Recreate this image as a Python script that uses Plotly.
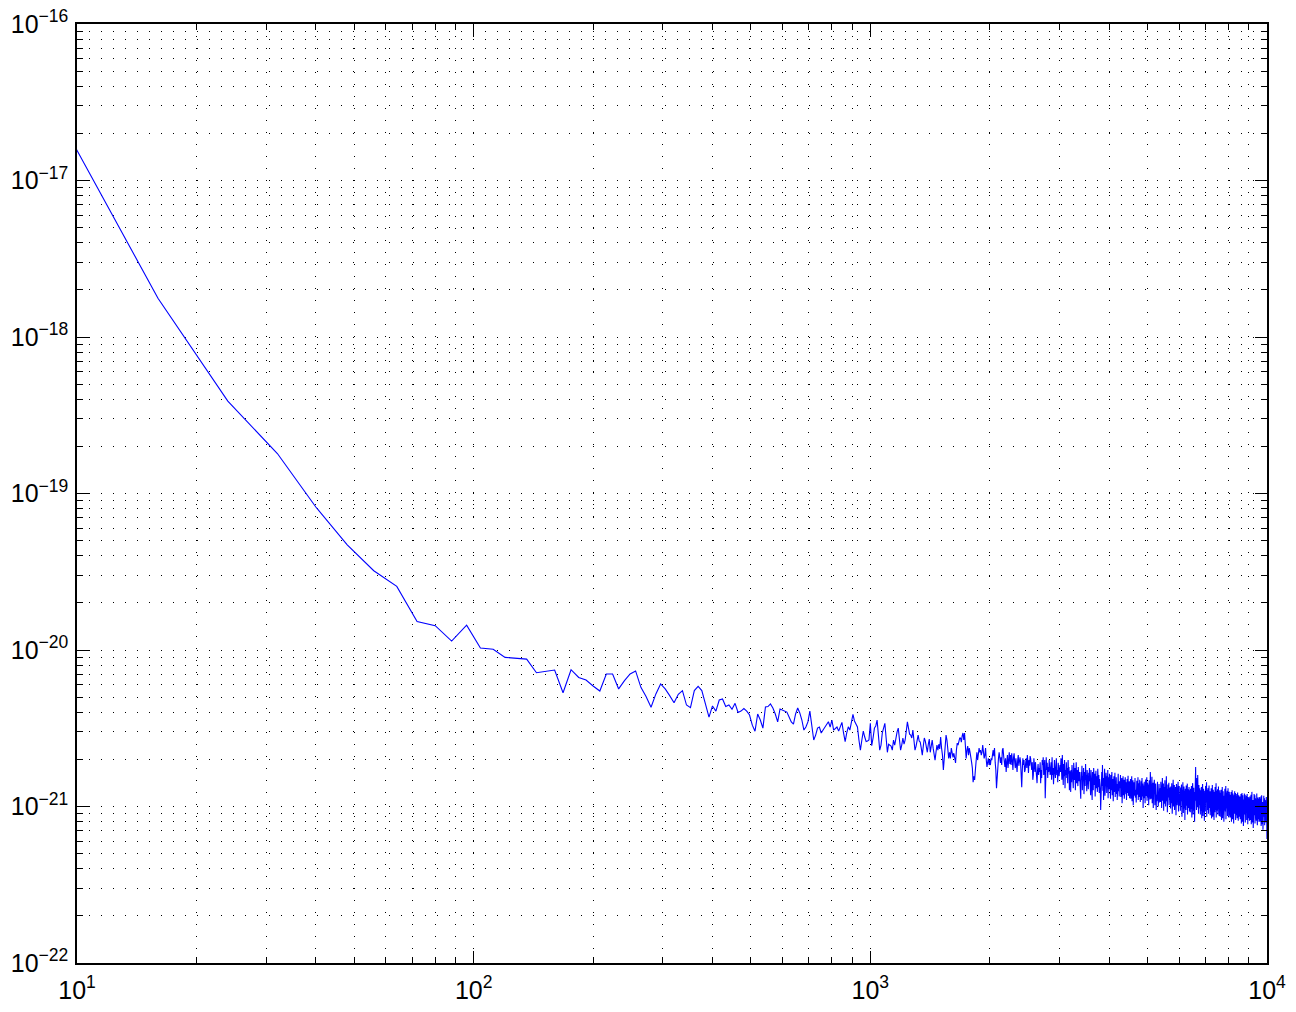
import numpy as np
import plotly.graph_objects as go

# Spectrum sampled on an 8 Hz frequency grid (8 Hz ... 10 kHz)
bin_width_hz = 8.0

# 8 Hz ... 416 Hz (absolute units)
psd_low = [
    4.37e-17, 1.77e-18, 3.89e-19, 1.80e-19, 8.20e-20, 4.70e-20, 3.21e-20, 2.55e-20, 1.52e-20, 1.43e-20,
    1.14e-20, 1.44e-20, 1.03e-20, 1.01e-20, 8.97e-21, 8.89e-21, 8.75e-21, 7.16e-21, 7.31e-21, 7.45e-21,
    5.33e-21, 7.48e-21, 6.68e-21, 6.43e-21, 5.89e-21, 5.47e-21, 7.03e-21, 7.03e-21, 5.64e-21, 6.37e-21,
    7.03e-21, 7.35e-21, 5.77e-21, 5.04e-21, 4.31e-21, 5.24e-21, 6.07e-21, 5.64e-21, 5.11e-21, 4.60e-21,
    5.21e-21, 5.50e-21, 4.45e-21, 4.28e-21, 5.50e-21, 5.86e-21, 5.50e-21, 4.56e-21, 3.72e-21, 4.39e-21,
    4.07e-21, 4.79e-21,
]

# 424 Hz ... 1000 Hz, in units of 1e-21
psd_mid_e21 = [
    4.86, 4.35, 4.45, 4.18, 4.56, 3.99, 4.07, 4.23, 4.07, 3.84,
    3.31, 3.03, 3.90, 3.57, 3.17, 4.32, 4.35, 4.52, 4.26, 3.90,
    3.47, 4.20, 4.13, 4.09, 4.01, 3.73, 3.47, 3.36, 3.90, 4.26,
    3.96, 3.57, 3.08, 3.22, 3.47, 4.07, 3.31, 2.66, 2.86, 3.17,
    3.22, 2.95, 3.08, 3.23, 3.36, 3.48, 3.22, 3.57, 3.08, 3.13,
    3.22, 3.03, 3.27, 3.45, 2.95, 2.60, 2.95, 3.23, 3.08, 3.57,
    3.88, 3.52, 3.36, 3.22, 2.66, 2.29, 2.66, 3.03, 2.78, 2.60,
    2.62, 2.66, 3.40,
]

# 1008 Hz ... 10000 Hz, in units of 1e-21
psd_high_e21 = [
    2.45, 2.74, 3.17, 3.27, 3.57, 2.86, 2.29,
    2.47, 2.95, 3.17, 3.40, 2.74, 2.22, 2.50, 2.45,
    2.43, 2.29, 2.66, 2.47, 2.78, 3.00, 3.17, 2.62,
    2.29, 2.47, 2.74, 2.50, 2.66, 3.03, 3.47, 3.17, 2.90,
    2.86, 2.74, 3.08, 2.58, 2.29, 2.43, 2.70, 2.86, 2.62,
    2.58, 2.36, 2.13, 2.43, 2.74, 2.62, 2.33, 2.22, 2.50, 2.70,
    2.22, 2.43, 2.66, 2.36, 2.10, 1.98, 2.22, 2.47, 2.29, 2.50, 2.33,
    2.78, 2.36, 2.13, 1.71, 2.03, 2.58, 2.86, 2.66, 2.29, 2.03, 2.22,
    2.03, 2.36, 2.22, 2.06, 2.19, 1.98, 1.90, 2.29, 2.54, 2.47, 2.66, 2.74,
    2.74, 2.58, 2.82, 2.95, 2.66, 2.95, 2.47, 2.03, 2.29, 2.43, 2.13, 2.36, 2.22,
    2.10, 1.92, 1.76, 1.43, 1.56, 1.48, 1.71, 2.06, 2.22, 1.98, 2.13, 2.36, 2.22,
    2.29, 2.13, 2.22, 2.47, 2.22, 2.03, 2.13, 2.36, 1.98, 1.79, 1.92, 2.03, 1.84, 1.98,
    1.84, 2.03, 1.98, 2.19, 2.29, 2.10, 2.36, 1.92, 1.71, 1.31, 1.59, 1.98, 2.03, 2.22, 1.92,
    1.90, 2.06, 1.84, 2.29, 2.36, 2.10, 1.98, 1.79, 2.03, 1.66, 1.92, 2.13, 1.76, 1.98, 2.22, 1.87,
    2.13, 1.84, 2.19, 1.98, 1.71, 2.06, 2.19, 1.92, 1.76, 2.03, 1.87, 1.66, 1.98, 2.13, 1.82, 1.95, 2.06,
    1.92, 1.59, 1.33, 1.71, 2.03, 1.84, 1.98, 1.66, 1.71, 1.90, 2.03, 1.76, 2.13, 1.92, 1.64, 1.98, 1.82, 2.10,
    2.03, 1.84, 1.71, 1.92, 1.48, 1.59, 2.03, 1.82, 1.66, 1.92, 1.76, 1.54, 1.41, 1.71, 1.87, 1.59, 1.76, 1.66, 1.92,
    1.41, 1.71, 1.52, 1.98, 1.84, 2.06, 1.59, 1.76, 1.98, 1.13, 1.48, 2.06, 1.71, 1.90, 1.52, 1.79, 1.66, 1.98, 1.76, 1.59,
    1.71, 1.92, 1.48, 2.06, 1.59, 1.76, 1.39, 1.84, 1.98, 1.66, 1.52, 1.79, 2.03, 1.59, 1.71, 1.43, 1.90, 1.76, 1.56, 1.69, 1.84,
    1.66, 2.03, 1.79, 1.48, 2.13, 1.71, 1.37, 1.87, 1.56, 1.98, 1.31, 1.71, 1.59, 1.92, 1.52, 1.76, 1.41, 1.98, 1.62, 1.79, 1.27, 1.69,
    1.59, 1.24, 1.71, 1.43, 1.84, 1.52, 1.66, 1.31, 1.90, 1.59, 1.48, 1.76, 1.27, 1.62, 1.92, 1.41, 1.71, 1.52, 1.35, 1.79, 1.59, 1.45, 1.66, 1.50,
    1.37, 1.12, 1.66, 1.48, 1.82, 1.27, 1.56, 1.45, 1.76, 1.20, 1.50, 1.66, 1.35, 1.87, 1.48, 1.59, 1.25, 1.71, 1.41, 1.54, 1.29, 1.64, 1.45, 1.76, 1.35,
    1.46, 1.18, 1.71, 1.36, 1.55, 1.10, 1.66, 1.42, 1.27, 1.76, 1.50, 1.37, 1.62, 1.16, 1.48, 1.69, 1.31, 1.56, 1.42, 1.24, 1.74, 1.46, 1.33, 1.59, 1.22, 1.50, 1.39,
    1.27, 0.95, 1.48, 1.18, 1.66, 1.35, 1.84, 1.26, 1.52, 1.10, 1.59, 1.39, 1.74, 1.17, 1.46, 1.31, 1.64, 1.50, 1.22, 1.56, 1.35, 1.71, 1.13, 1.43, 1.54, 1.29, 1.62, 1.37,
    1.37, 1.12, 1.59, 1.27, 1.48, 1.66, 1.18, 1.35, 1.50, 1.08, 1.41, 1.56, 1.24, 1.31, 1.64, 1.15, 1.43, 1.29, 1.54, 1.20,
    1.39, 1.10, 1.50, 1.33, 1.62, 1.25, 1.37, 1.16, 1.45, 1.31,
    1.33, 1.59, 1.15, 1.45, 1.24, 1.52, 1.05, 1.39, 1.27, 1.56, 1.18, 1.35, 1.48, 1.12, 1.41, 1.26, 1.54, 1.31, 1.20, 1.43,
    1.10, 1.37, 1.50, 1.22, 1.33, 1.57, 1.17, 1.39, 1.29, 1.45, 1.13, 1.35,
    1.29, 1.50, 1.12, 1.38, 1.21, 1.56, 1.08, 1.34, 1.25, 1.47, 1.02, 1.31, 1.43, 1.17, 1.36, 1.24, 1.52, 1.14, 1.40, 1.28,
    1.06, 1.33, 1.46, 1.19, 1.37, 1.26, 1.54, 1.10, 1.32, 1.41, 1.15, 1.29, 1.48, 1.22,
    1.07, 1.34, 1.18, 1.45, 1.10, 1.30, 1.52, 1.16, 1.27, 1.40, 0.98, 1.25, 1.36, 1.13, 1.44, 1.21, 1.32, 1.05, 1.28, 1.49,
    1.17, 1.35, 1.23, 1.54, 1.09, 1.30, 1.42, 1.14, 1.26, 1.38, 1.02, 1.31, 1.47, 1.20, 1.33, 1.11,
    1.66, 1.28, 1.45, 1.12, 1.38, 1.20, 1.55, 1.05, 1.30, 1.18, 1.42, 0.98, 1.25, 1.35, 1.10, 1.48, 1.22, 1.02, 1.33, 1.15,
    1.40, 1.26, 0.95, 1.19, 1.36, 1.08, 1.29, 1.44, 1.14, 1.24, 1.00, 1.32, 1.17, 1.39, 1.06, 1.27, 1.21, 1.11,
    1.31, 1.07, 1.44, 1.16, 1.25, 0.98, 1.36, 1.20, 1.52, 1.09, 1.28, 1.13, 1.40, 0.94, 1.23, 1.33, 1.04, 1.18, 1.47, 1.11,
    1.26, 1.00, 1.35, 1.15, 1.56, 1.08, 1.22, 1.30, 0.92, 1.19, 1.38, 1.06, 1.27, 1.14, 1.42, 1.02, 1.24, 1.17, 1.32, 1.10,
    1.21, 0.97, 1.34, 1.12, 1.26, 1.05, 1.41, 1.15, 0.90, 1.23, 1.30, 1.08, 1.48, 1.17, 1.00, 1.28, 1.13, 1.37, 0.95, 1.20,
    1.25, 1.04, 1.33, 1.16, 0.88, 1.22, 1.39, 1.10, 1.27, 1.02, 1.19, 1.31, 1.07, 1.44, 1.14, 0.93, 1.24, 1.18, 1.35, 1.01,
    1.29, 1.11,
    1.20, 0.94, 1.32, 1.08, 1.25, 0.99, 1.38, 1.12, 0.86, 1.18, 1.28, 1.03, 1.43, 1.15, 0.91, 1.22, 1.10, 1.34, 0.97, 1.17,
    1.26, 0.82, 1.13, 1.30, 1.05, 1.21, 0.95, 1.36, 1.09, 1.24, 1.01, 1.16, 1.40, 0.89, 1.19, 1.11, 1.29, 0.98, 1.23, 1.06,
    1.33, 1.14, 0.93, 1.27, 1.07,
    1.18, 0.92, 1.30, 1.05, 1.22, 0.96, 1.35, 1.10, 0.85, 1.16, 1.26, 1.01, 1.41, 1.12, 0.89, 1.20, 1.07, 1.32, 0.94, 1.15,
    1.24, 0.80, 1.11, 1.28, 1.28, 1.05, 1.79, 1.12, 1.09, 1.21, 0.95, 1.34, 1.52, 1.13, 1.25, 0.99, 1.59, 1.17, 1.06, 1.29,
    0.90, 1.19, 1.37, 1.02, 1.23, 1.08, 1.31, 0.97,
    1.14, 0.89, 1.27, 1.03, 1.20, 0.94, 1.33, 1.08, 0.84, 1.16, 1.24, 0.99, 1.39, 1.11, 0.87, 1.19, 1.05, 1.30, 0.92, 1.13,
    1.22, 0.81, 1.09, 1.26, 1.01, 1.17, 0.93, 1.35, 1.06, 1.21, 0.97, 1.12, 1.43, 0.86, 1.15, 1.07, 1.28, 0.95, 1.18, 1.02,
    1.31, 1.10, 0.90, 1.23, 1.04, 1.36, 0.98, 1.14, 1.25, 0.88,
    1.12, 0.88, 1.25, 1.01, 1.18, 0.93, 1.31, 1.06, 0.84, 1.14, 1.22, 0.97, 1.37, 1.09, 0.86, 1.17, 1.03, 1.28, 0.91, 1.11,
    1.20, 0.82, 1.07, 1.24, 0.99, 1.15, 0.92, 1.33, 1.04, 1.19, 0.95, 1.10, 1.41, 0.85, 1.13, 1.05, 1.26, 0.94, 1.16, 1.00,
    1.29, 1.08, 0.89, 1.21, 1.02, 1.34, 0.96, 1.12, 1.23, 0.87, 1.18, 1.06, 1.27, 0.98,
    1.09, 0.86, 1.22, 0.98, 1.15, 0.91, 1.28, 1.03, 0.82, 1.11, 1.19, 0.95, 1.33, 1.06, 0.84, 1.14, 1.00, 1.25, 0.89, 1.08,
    1.17, 0.80, 1.04, 1.21, 0.96, 1.28, 0.99, 1.30, 1.01, 1.16, 0.93, 1.07, 1.35, 0.83, 1.10, 1.02, 1.23, 0.92, 1.13, 0.97,
    1.26, 1.05, 0.87, 1.18, 0.99, 1.31, 0.94, 1.09, 1.20, 0.85, 1.15, 1.03, 1.24, 0.95, 1.12, 0.90, 1.06,
    1.07, 0.85, 1.19, 0.96, 1.12, 0.89, 1.24, 1.01, 0.80, 1.09, 1.16, 0.93, 1.27, 1.04, 0.83, 1.11, 0.98, 1.21, 0.87, 1.06,
    1.14, 0.78, 1.02, 1.18, 0.94, 1.10, 0.90, 1.25, 0.99, 1.13, 0.91, 1.05, 1.22, 0.82, 1.08, 1.00, 1.17, 0.88, 1.11, 0.95,
    1.20, 1.03, 0.84, 1.15, 0.97, 1.23, 0.92, 1.07, 1.13, 0.81, 1.10, 0.99, 1.18, 0.90, 1.06, 0.86, 1.12, 1.01, 0.94, 1.16,
    1.04, 0.83, 1.16, 0.94, 1.09, 0.87, 1.20, 0.98, 0.78, 1.06, 1.13, 0.91, 1.22, 1.01, 0.80, 1.08, 0.95, 1.18, 0.85, 1.03,
    1.11, 0.75, 0.99, 1.15, 0.92, 1.07, 0.88, 1.21, 0.96, 1.10, 0.89, 1.02, 1.19, 0.79, 1.05, 0.97, 1.14, 0.86, 1.08, 0.93,
    1.17, 1.00, 0.82, 1.12, 0.94, 1.20, 0.90, 1.04, 1.10, 0.77, 1.07, 0.96, 1.15, 0.87, 1.03, 0.84, 1.09, 0.98, 0.91, 1.13,
    0.81, 1.01, 1.16, 0.93,
    1.03, 0.82, 1.15, 0.93, 1.08, 0.86, 1.19, 0.97, 0.77, 1.05, 1.12, 0.90, 1.24, 1.00, 0.79, 1.07, 0.94, 1.17, 0.84, 1.02,
    1.10, 0.73, 0.98, 1.14, 0.91, 1.06, 0.87, 1.20, 0.95, 1.09, 0.88, 1.01, 1.18, 0.78, 1.04, 0.96, 1.13, 0.85, 1.07, 0.92,
    1.16, 0.99, 0.81, 1.11, 0.93, 1.21, 0.89, 1.03, 1.09, 0.76, 1.06, 0.95, 1.14, 0.86, 1.02, 0.83, 1.08, 0.97, 0.90, 1.12,
    0.80, 1.00, 1.15, 0.92, 1.04, 0.87, 1.10,
    1.00, 0.80, 1.12, 0.90, 1.05, 0.84, 1.16, 0.94, 0.75, 1.02, 1.09, 0.87, 1.18, 0.97, 0.77, 1.04, 0.91, 1.14, 0.82, 0.99,
    1.07, 0.71, 0.95, 1.11, 0.88, 1.03, 0.85, 1.17, 0.92, 1.06, 0.86, 0.98, 1.13, 0.76, 1.01, 0.93, 1.10, 0.83, 1.04, 0.89,
    1.12, 0.96, 0.79, 1.08, 0.90, 1.15, 1.06, 0.74, 1.02, 0.81, 0.62,
]
unit = 1e-21

psd = np.concatenate([
    np.asarray(psd_low),
    np.asarray(psd_mid_e21) * unit,
    np.asarray(psd_high_e21) * unit,
])
freq = bin_width_hz * np.arange(1, psd.size + 1)

# Axis decorations
x_tick_vals = [10, 100, 1000, 10000]
x_tick_exps = ["1", "2", "3", "4"]
y_tick_vals = [1e-22, 1e-21, 1e-20, 1e-19, 1e-18, 1e-17, 1e-16]
y_tick_exps = ["\u221222", "\u221221", "\u221220", "\u221219", "\u221218", "\u221217", "\u221216"]
x_minor_vals = [m * 10 ** d for d in (1, 2, 3) for m in range(2, 10)]
y_minor_vals = [m * 10.0 ** e for e in range(-22, -16) for m in range(2, 10)]


def power_label(exp):
    return "10<sup>" + exp + "</sup>"


font_family = "Liberation Sans, Arial, Helvetica, sans-serif"
grid_dash = "1px,11px"

fig = go.Figure()
fig.add_trace(go.Scatter(
    x=freq, y=psd, mode="lines",
    line=dict(color="#0000ff", width=1.1),
    showlegend=False, hoverinfo="skip",
))

axis_common = dict(
    type="log",
    automargin=False,
    showline=True, linecolor="black", linewidth=1.5, mirror="allticks",
    ticks="inside", ticklen=12, tickwidth=1, tickcolor="black",
    showgrid=True, gridcolor="black", gridwidth=1, griddash=grid_dash,
    zeroline=False,
    tickfont=dict(family=font_family, size=25, color="black"),
)

fig.update_xaxes(
    **axis_common,
    range=[1, 4],
    tickmode="array", tickvals=x_tick_vals,
    ticktext=[power_label(e) for e in x_tick_exps],
    ticklabelstandoff=4,
    minor=dict(tickmode="array", tickvals=x_minor_vals, ticks="inside", ticklen=6,
               tickcolor="black", showgrid=True, gridcolor="black", gridwidth=1,
               griddash=grid_dash),
)
fig.update_yaxes(
    **axis_common,
    range=[-22, -16],
    tickmode="array", tickvals=y_tick_vals,
    ticktext=[power_label(e) for e in y_tick_exps],
    ticklabelstandoff=2,
    minor=dict(tickmode="array", tickvals=y_minor_vals, ticks="inside", ticklen=6,
               tickcolor="black", showgrid=True, gridcolor="black", gridwidth=1,
               griddash=grid_dash),
)

fig.update_layout(
    width=1296, height=1012,
    margin=dict(l=77, r=29, t=24, b=49, pad=0, autoexpand=False),
    paper_bgcolor="white", plot_bgcolor="white",
    font=dict(family=font_family, color="black"),
)

fig.write_html("out.html")
